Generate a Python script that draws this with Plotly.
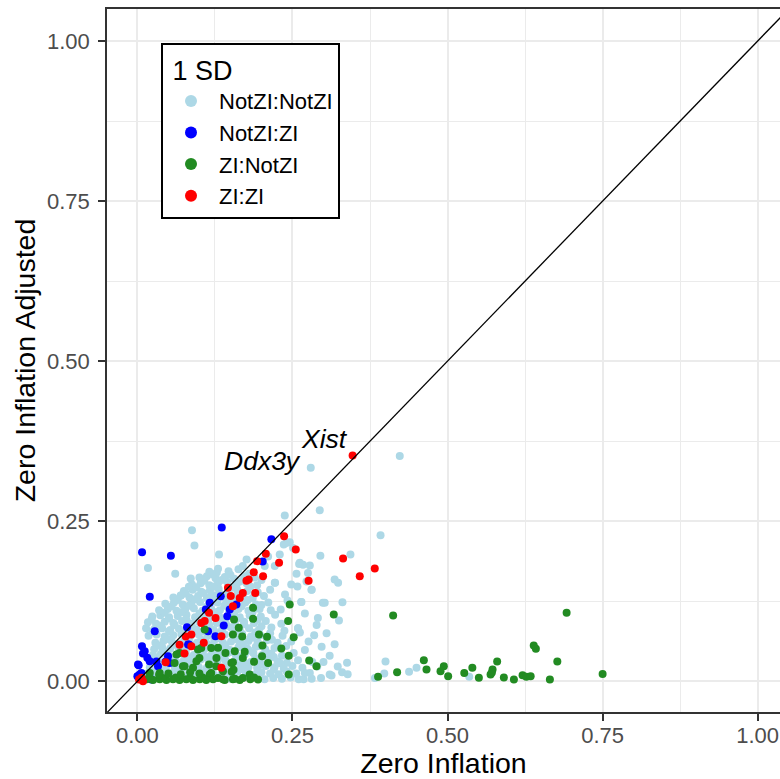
import plotly.graph_objects as go

# ---- data (x = Zero Inflation, y = Zero Inflation Adjusted) ----
NOTZI_NOTZI = [
    # bottom band
    (0.014,0.004),(0.030,0.006),(0.052,0.005),(0.078,0.004),(0.101,0.006),(0.126,0.005),(0.149,0.004),
    (0.172,0.006),(0.205,0.003),(0.219,0.005),(0.233,0.004),(0.247,0.006),(0.260,0.003),(0.268,0.003),
    (0.281,0.004),(0.296,0.005),(0.310,0.0105),(0.313,0.009),(0.330,0.014),(0.339,0.011),(0.383,0.005),
    (0.398,0.012),(0.400,0.031),(0.438,0.015),(0.450,0.021),(0.535,0.007),(0.323,0.023),(0.338,0.029),
    (0.290,0.023),(0.278,0.013),
    # dense cloud
    (0.016,0.012),(0.029,0.014),(0.043,0.011),(0.056,0.013),(0.069,0.015),(0.083,0.012),(0.095,0.010),
    (0.108,0.014),(0.122,0.012),(0.135,0.011),(0.147,0.013),(0.161,0.015),(0.175,0.012),(0.188,0.010),
    (0.200,0.014),(0.214,0.012),(0.228,0.011),(0.241,0.015),(0.256,0.012),(0.270,0.013),
    (0.020,0.022),(0.033,0.024),(0.046,0.021),(0.060,0.023),(0.072,0.020),(0.085,0.025),(0.099,0.022),
    (0.112,0.021),(0.126,0.024),(0.139,0.022),(0.152,0.020),(0.166,0.025),(0.179,0.022),(0.193,0.021),
    (0.207,0.024),(0.221,0.022),(0.236,0.020),(0.250,0.024),(0.266,0.021),
    (0.022,0.032),(0.035,0.030),(0.048,0.034),(0.062,0.031),(0.075,0.033),(0.089,0.030),(0.102,0.034),
    (0.115,0.032),(0.129,0.030),(0.142,0.033),(0.156,0.031),(0.169,0.034),(0.183,0.030),(0.197,0.032),
    (0.211,0.034),(0.226,0.031),(0.241,0.029),(0.259,0.033),(0.282,0.030),
    (0.025,0.041),(0.038,0.043),(0.051,0.040),(0.064,0.042),(0.078,0.044),(0.091,0.041),(0.105,0.043),
    (0.118,0.040),(0.132,0.042),(0.146,0.044),(0.159,0.040),(0.173,0.042),(0.187,0.044),(0.201,0.041),
    (0.216,0.043),(0.233,0.040),(0.252,0.044),
    (0.027,0.050),(0.040,0.053),(0.053,0.051),(0.067,0.049),(0.080,0.052),(0.094,0.054),(0.108,0.050),
    (0.121,0.053),(0.135,0.051),(0.149,0.049),(0.163,0.053),(0.177,0.051),(0.191,0.054),(0.206,0.050),
    (0.221,0.052),(0.240,0.055),(0.270,0.049),
    (0.029,0.060),(0.042,0.063),(0.056,0.061),(0.069,0.059),(0.083,0.063),(0.096,0.060),(0.110,0.062),
    (0.124,0.064),(0.138,0.060),(0.151,0.062),(0.165,0.059),(0.179,0.063),(0.194,0.061),(0.209,0.064),
    (0.226,0.060),(0.248,0.062),
    (0.018,0.071),(0.031,0.073),(0.044,0.070),(0.058,0.072),(0.071,0.074),(0.085,0.070),(0.099,0.073),
    (0.113,0.071),(0.127,0.069),(0.141,0.073),(0.155,0.071),(0.169,0.074),(0.183,0.070),(0.198,0.072),
    (0.214,0.075),(0.234,0.071),(0.262,0.076),
    (0.014,0.083),(0.027,0.081),(0.040,0.083),(0.053,0.080),(0.067,0.082),(0.081,0.084),(0.095,0.081),
    (0.109,0.083),(0.123,0.080),(0.137,0.082),(0.151,0.084),(0.165,0.080),(0.180,0.083),(0.196,0.081),
    (0.216,0.084),(0.259,0.083),(0.237,0.079),
    (0.017,0.092),(0.030,0.090),(0.044,0.093),(0.058,0.091),(0.072,0.094),(0.086,0.090),(0.100,0.092),
    (0.114,0.094),(0.128,0.091),(0.142,0.093),(0.157,0.090),(0.172,0.093),(0.188,0.091),(0.207,0.094),
    (0.232,0.090),
    (0.024,0.101),(0.037,0.103),(0.051,0.100),(0.065,0.102),(0.079,0.104),(0.093,0.100),(0.107,0.103),
    (0.121,0.101),(0.135,0.099),(0.150,0.103),(0.165,0.100),(0.181,0.103),(0.199,0.101),(0.222,0.104),
    (0.291,0.099),
    (0.035,0.111),(0.049,0.113),(0.063,0.110),(0.077,0.112),(0.091,0.114),(0.105,0.110),(0.119,0.113),
    (0.133,0.111),(0.148,0.109),(0.163,0.113),(0.179,0.110),(0.197,0.113),(0.215,0.111),
    (0.045,0.121),(0.059,0.123),(0.073,0.120),(0.087,0.122),(0.101,0.124),(0.115,0.120),(0.129,0.123),
    (0.143,0.121),(0.158,0.119),(0.174,0.123),(0.191,0.120),(0.211,0.123),(0.264,0.124),(0.299,0.1225),
    (0.3306,0.1235),(0.302,0.1225),
    (0.058,0.131),(0.070,0.134),(0.084,0.131),(0.098,0.133),(0.112,0.130),(0.126,0.134),(0.140,0.131),
    (0.155,0.129),(0.170,0.133),(0.186,0.130),(0.204,0.133),
    (0.075,0.141),(0.089,0.143),(0.103,0.140),(0.117,0.142),(0.131,0.144),(0.146,0.140),(0.161,0.143),
    (0.177,0.141),(0.194,0.139),(0.214,0.143),(0.238,0.1355),(0.281,0.143),
    (0.088,0.151),(0.102,0.153),(0.116,0.150),(0.130,0.153),(0.145,0.155),(0.160,0.151),(0.176,0.153),
    (0.193,0.150),(0.222,0.154),(0.248,0.151),(0.258,0.148),(0.2726,0.156),
    (0.086,0.1605),(0.100,0.162),(0.112,0.164),(0.126,0.161),(0.141,0.163),(0.156,0.160),(0.172,0.164),
    (0.189,0.162),(0.318,0.159),(0.3236,0.154),(0.2565,0.168),(0.275,0.169),
    (0.116,0.171),(0.130,0.1756),(0.147,0.172),(0.163,0.175),(0.128,0.170),(0.170,0.180),(0.2215,0.180),
    (0.2053,0.180),
    (0.176,0.190),(0.2607,0.183),(0.267,0.182),(0.278,0.181),(0.2107,0.195),(0.2295,0.198),(0.1316,0.198),
    (0.295,0.196),(0.3435,0.198),(0.2618,0.185),
    # in-between points of the dense core
    (0.036,0.017),(0.062,0.018),(0.089,0.016),(0.115,0.018),(0.141,0.017),(0.168,0.019),(0.194,0.016),(0.220,0.018),
    (0.040,0.027),(0.066,0.028),(0.092,0.026),(0.119,0.028),(0.146,0.027),(0.172,0.029),(0.200,0.026),(0.230,0.028),
    (0.031,0.037),(0.057,0.038),(0.083,0.036),(0.109,0.038),(0.136,0.037),(0.163,0.039),(0.190,0.036),(0.220,0.038),
    (0.045,0.046),(0.071,0.047),(0.098,0.045),(0.125,0.047),(0.152,0.046),(0.180,0.048),(0.208,0.045),
    (0.034,0.056),(0.060,0.057),(0.087,0.055),(0.114,0.057),(0.142,0.056),(0.170,0.058),(0.199,0.055),
    (0.049,0.066),(0.076,0.067),(0.103,0.065),(0.131,0.067),(0.158,0.066),(0.186,0.068),(0.217,0.065),
    (0.024,0.077),(0.051,0.078),(0.078,0.076),(0.106,0.078),(0.134,0.077),(0.162,0.079),(0.190,0.076),
    (0.034,0.087),(0.060,0.088),(0.088,0.086),(0.116,0.088),(0.144,0.087),(0.172,0.089),(0.200,0.086),
    (0.023,0.097),(0.051,0.098),(0.079,0.096),(0.107,0.098),(0.135,0.097),(0.164,0.099),(0.194,0.096),
    (0.044,0.107),(0.072,0.108),(0.100,0.106),(0.128,0.108),(0.156,0.107),(0.186,0.109),
    (0.055,0.117),(0.083,0.118),(0.111,0.116),(0.140,0.118),(0.168,0.117),(0.200,0.119),
    (0.065,0.127),(0.093,0.128),(0.121,0.126),(0.149,0.128),(0.178,0.127),
    (0.078,0.137),(0.106,0.138),(0.134,0.136),(0.162,0.138),(0.190,0.137),
    (0.095,0.147),(0.123,0.148),(0.152,0.146),(0.182,0.148),
    (0.108,0.157),(0.136,0.158),(0.165,0.156),(0.200,0.158),
    (0.121,0.167),(0.150,0.166),(0.180,0.168),
    # stragglers
    (0.017,0.177),(0.061,0.168),(0.088,0.236),(0.092,0.212),(0.083,0.1475),(0.070,0.134),(0.119,0.135),
    (0.236,0.2136),(0.2456,0.217),(0.251,0.208),(0.240,0.216),(0.2376,0.259),(0.294,0.267),
    (0.392,0.228),(0.423,0.352),(0.2795,0.3333),(0.2806,0.143),(0.2215,0.154),
    (0.2645,0.124),(0.259,0.083),(0.325,0.095),(0.231,0.112),(0.242,0.126),(0.270,0.106),(0.285,0.072),
    (0.297,0.054),(0.276,0.062),(0.310,0.040),(0.300,0.030),(0.289,0.088),(0.305,0.075),(0.318,0.058),
]

NOTZI_ZI = [
    (0.0075,0.2016),(0.054,0.196),(0.136,0.240),(0.020,0.132),(0.216,0.222),(0.202,0.187),(0.028,0.078),
    (0.1166,0.1225),(0.1103,0.1119),(0.1344,0.1328),(0.1489,0.112),(0.145,0.1016),(0.1597,0.1198),
    (0.1392,0.087),(0.1258,0.0703),(0.1139,0.078),(0.080,0.0844),(0.0832,0.0573),(0.0494,0.039),
    (0.0332,0.0234),(0.0074,0.0547),(0.009,0.0433),(0.0021,0.025),(0.0037,0.0105),(0.0198,0.0313),
    (0.0226,0.0027),(0.000,0.0078),(0.0118,0.047),(0.001,0.026),(0.016,0.0366),(0.0306,0.031),
    (0.0456,0.031),(0.052,0.0287),(0.0817,0.0573),(0.001,0.0078),(0.0198,0.0053),(0.0065,0.013),
]

ZI_NOTZI = [
    (0.1865,0.1147),(0.2456,0.1198),(0.3166,0.1042),(0.1865,0.0975),(0.243,0.094),(0.1558,0.0964),
    (0.154,0.073),(0.169,0.070),(0.196,0.073),(0.209,0.0694),(0.252,0.0688),(0.2016,0.0558),
    (0.232,0.0511),(0.157,0.0469),(0.173,0.046),(0.130,0.0522),(0.0977,0.0495),(0.0952,0.0313),
    (0.1155,0.026),(0.142,0.0443),(0.154,0.0297),(0.188,0.0303),(0.201,0.039),(0.244,0.040),
    (0.277,0.0323),(0.244,0.0105),(0.068,0.0443),(0.060,0.0286),(0.076,0.0234),(0.119,0.013),
    (0.138,0.0156),(0.152,0.0147),(0.181,0.0105),(0.1634,0.0834),(0.119,0.052),(0.1274,0.0365),
    (0.170,0.0365),(0.2887,0.0234),(0.2107,0.0287),(0.1516,0.0287),(0.127,0.0234),(0.155,0.018),
    (0.1166,0.0105),(0.1085,0.081),(0.103,0.052),(0.100,0.0365),(0.0735,0.0234),(0.063,0.0417),
    (0.0897,0.021),(0.036,0.013),
    (0.1945,0.0027),(0.182,0.003),(0.165,0.002),(0.154,0.003),(0.1408,0.002),(0.122,0.003),(0.111,0.002),
    (0.1005,0.003),(0.0897,0.002),(0.079,0.003),(0.068,0.002),(0.0574,0.003),(0.0468,0.002),(0.036,0.003),
    (0.0252,0.002),(0.015,0.003),(0.138,0.003),(0.157,0.004),(0.130,0.005),(0.105,0.006),(0.085,0.005),
    (0.062,0.006),(0.041,0.005),(0.020,0.005),(0.170,0.005),(0.188,0.006),
    (0.100,0.012),(0.085,0.014),(0.070,0.011),(0.050,0.012),(0.035,0.010),(0.020,0.013),
    (0.4123,0.1027),(0.692,0.1069),(0.639,0.0558),(0.6424,0.0506),(0.677,0.031),(0.750,0.0115),
    (0.4618,0.0328),(0.4661,0.0183),(0.388,0.0069),(0.4187,0.014),(0.4887,0.0156),(0.494,0.0234),
    (0.501,0.0078),(0.527,0.013),(0.540,0.021),(0.5505,0.0053),(0.580,0.031),(0.5726,0.0183),
    (0.5694,0.0105),(0.5715,0.0135),(0.5908,0.0058),(0.607,0.0027),(0.621,0.0094),(0.627,0.0069),
    (0.634,0.0078),(0.665,0.0027),
]

ZI_ZI = [
    (0.347,0.3527),(0.2365,0.2266),(0.2553,0.2058),(0.2284,0.185),(0.193,0.1875),(0.207,0.199),
    (0.1876,0.1703),(0.2026,0.164),(0.1758,0.157),(0.1795,0.159),(0.190,0.138),(0.170,0.138),
    (0.165,0.130),(0.146,0.146),(0.1505,0.133),(0.154,0.117),(0.1155,0.107),(0.126,0.099),
    (0.103,0.091),(0.1085,0.094),(0.1355,0.0703),(0.087,0.073),(0.078,0.070),(0.068,0.057),
    (0.087,0.0547),(0.107,0.060),(0.076,0.0433),(0.0456,0.0297),(0.1355,0.021),(0.0026,0.0027),
    (0.0065,0.0053),(0.009,0.000),(0.3316,0.1917),(0.276,0.157),(0.3585,0.164),(0.3827,0.176),
]

SERIES_NAMES = ["NotZI:NotZI", "NotZI:ZI", "ZI:NotZI", "ZI:ZI"]
SERIES_COLORS = ["#ADD8E6", "#0000FF", "#228B22", "#FF0000"]
SERIES_DATA = [NOTZI_NOTZI, NOTZI_ZI, ZI_NOTZI, ZI_ZI]

LABELS = ["Xist", "Ddx3y"]
LABEL_X = [0.302, 0.2024]
LABEL_Y = [0.378, 0.3448]

DIAG = [-0.1, 1.1]

FONT = "Liberation Sans, Arial, Helvetica, sans-serif"

fig = go.Figure()
for name, col, pts in zip(SERIES_NAMES, SERIES_COLORS, SERIES_DATA):
    fig.add_trace(go.Scatter(
        x=[p[0] for p in pts], y=[p[1] for p in pts], mode="markers", name=name,
        marker=dict(color=col, size=8, line=dict(width=0)),
    ))

fig.add_trace(go.Scatter(x=DIAG, y=DIAG, mode="lines", showlegend=False, hoverinfo="skip",
                         line=dict(color="black", width=1.3)))

for t, x, y in zip(LABELS, LABEL_X, LABEL_Y):
    fig.add_annotation(x=x, y=y, text=f"<i>{t}</i>", showarrow=False,
                       font=dict(family=FONT, size=26.5, color="black"))

axis_common = dict(
    tick0=0, dtick=0.25, tickformat=".2f",
    ticks="outside", ticklen=7, tickwidth=1.5, tickcolor="#333333",
    tickfont=dict(family=FONT, size=22, color="#4D4D4D"),
    showgrid=True, gridcolor="#EBEBEB", gridwidth=2,
    minor=dict(tick0=0, dtick=0.125, showgrid=True, gridcolor="#EBEBEB", gridwidth=1, ticks=""),
    zeroline=False, showline=True, linecolor="#333333", linewidth=1.5,
)

fig.update_layout(
    width=780, height=779,
    margin=dict(l=107, r=0, t=9, b=67, autoexpand=False),
    paper_bgcolor="white", plot_bgcolor="white",
    font=dict(family=FONT),
    xaxis=dict(range=[-0.049, 1.036], mirror=True, ticklabelstandoff=-4,
               title=dict(text="Zero Inflation", font=dict(family=FONT, size=28.5, color="black"), standoff=10),
               **axis_common),
    yaxis=dict(range=[-0.048, 1.05], mirror=False, ticklabelstandoff=4,
               title=dict(text="Zero Inflation Adjusted", font=dict(family=FONT, size=28.5, color="black"), standoff=3),
               **axis_common),
    legend=dict(
        xref="paper", yref="paper", x=(161-107)/673, y=(712-43)/703, xanchor="left", yanchor="top",
        bgcolor="white", bordercolor="black", borderwidth=2,
        font=dict(family=FONT, size=22, color="black"),
        title=dict(text="&nbsp;1 SD", font=dict(family=FONT, size=27, color="black")),
        itemsizing="constant", itemwidth=46,
    ),
    showlegend=True,
)

fig.write_html("out.html")
